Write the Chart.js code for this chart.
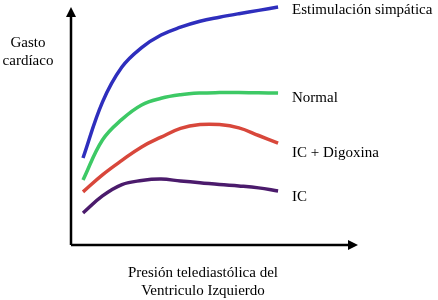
<!DOCTYPE html>
<html>
<head>
<meta charset="utf-8">
<script src="https://cdn.jsdelivr.net/npm/chart.js@4/dist/chart.umd.min.js"></script>
<style>
  html, body { margin: 0; padding: 0; background: #fff; }
  canvas { display: block; }
</style>
</head>
<body>
<canvas id="myChart" width="438" height="300"></canvas>
<script>
/* Data : */
const pressure = [4.2, 11.0, 17.8, 24.7, 31.5, 38.3, 45.1, 51.9, 58.7, 65.6, 72.4];
const simpatica = [36.7, 60.3, 75.1, 83.3, 88.6, 91.9, 94.4, 96.1, 97.6, 99.0, 100.4];
const normal = [27.4, 44.3, 53.0, 59.1, 61.9, 63.4, 64.1, 64.3, 64.3, 64.2, 64.1];
const digoxina = [22.4, 29.6, 35.7, 41.4, 45.5, 49.2, 50.8, 50.8, 49.4, 46.2, 43.0];
const ic = [13.5, 20.7, 25.5, 27.2, 27.8, 27.0, 26.3, 25.5, 24.9, 24.1, 22.8];
const seriesNames = ["Estimulación simpática", "Normal", "IC + Digoxina", "IC"];

const FONT = '15px "Liberation Serif", "Times New Roman", serif';

function toPoints(values) {
  return pressure.map((p, i) => ({ x: p, y: values[i] }));
}

function makeSet(label, values, color) {
  return {
    label: label,
    data: toPoints(values),
    borderColor: color,
    borderWidth: 3.5,
    pointRadius: 0,
    tension: 0.4,
    fill: false,
    clip: false,
  };
}

/* Axes with arrows + texts */
const decorations = {
  id: "decorations",
  afterDraw(chart) {
    const { ctx, chartArea } = chart;
    const left = chartArea.left;
    const bottom = chartArea.bottom;
    const top = chartArea.top;
    const right = chartArea.right;

    ctx.save();
    ctx.strokeStyle = "#000";
    ctx.fillStyle = "#000";
    ctx.lineWidth = 2.5;

    ctx.beginPath();
    ctx.moveTo(left, bottom);
    ctx.lineTo(left, top + 6);
    ctx.moveTo(left, bottom);
    ctx.lineTo(right - 6, bottom);
    ctx.stroke();

    // arrow heads
    ctx.beginPath();
    ctx.moveTo(left, top - 1);
    ctx.lineTo(left - 5, top + 9);
    ctx.lineTo(left + 5, top + 9);
    ctx.closePath();
    ctx.fill();

    ctx.beginPath();
    ctx.moveTo(right + 1, bottom);
    ctx.lineTo(right - 9, bottom - 5);
    ctx.lineTo(right - 9, bottom + 5);
    ctx.closePath();
    ctx.fill();

    // series labels
    ctx.font = FONT;
    ctx.textBaseline = "middle";
    ctx.textAlign = "left";
    const labelY = [10, 98, 153, 197];
    seriesNames.forEach((name, i) => {
      ctx.fillText(name, 292, labelY[i]);
    });

    // axis titles
    ctx.textAlign = "center";
    ctx.fillText("Gasto", 28, 43);
    ctx.fillText("cardíaco", 28, 61);
    ctx.fillText("Presión telediastólica del", 203, 273);
    ctx.fillText("Ventriculo Izquierdo", 203, 291);
    ctx.restore();
  },
};

const ctx = document.getElementById("myChart").getContext("2d");

const config = {
  type: "line",
  data: {
    datasets: [
      makeSet(seriesNames[0], simpatica, "#2e2ebd"),
      makeSet(seriesNames[1], normal, "#3dc965"),
      makeSet(seriesNames[2], digoxina, "#d8473b"),
      makeSet(seriesNames[3], ic, "#4b1b6c"),
    ],
  },
  options: {
    responsive: false,
    animation: false,
    layout: {
      padding: { left: 71, right: 81, top: 8, bottom: 55 },
    },
    plugins: {
      legend: { display: false },
      tooltip: { enabled: false },
    },
    scales: {
      x: { type: "linear", min: 0, max: 100, display: false },
      y: { min: 0, max: 100, display: false },
    },
  },
  plugins: [decorations],
};

const myChart = new Chart(ctx, config);
</script>
</body>
</html>
